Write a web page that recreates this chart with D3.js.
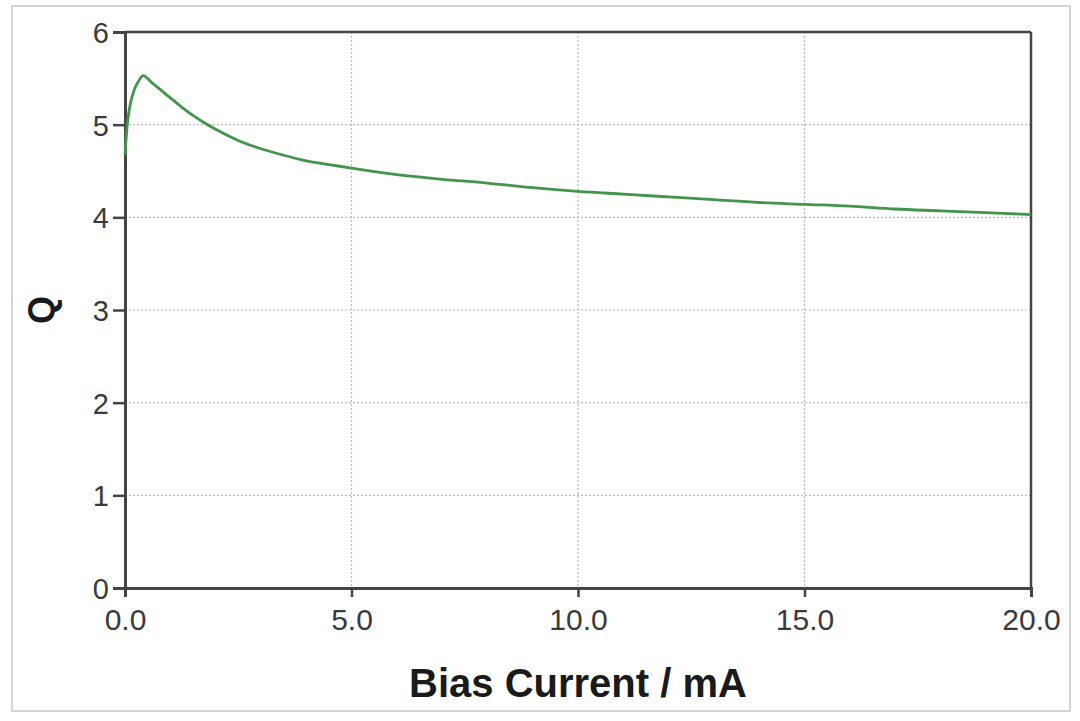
<!DOCTYPE html>
<html><head><meta charset="utf-8">
<script src="https://cdn.jsdelivr.net/npm/d3@7"></script>
<style>body{margin:0;background:#fff}svg{display:block}</style>
</head><body>
<script>
const biasCurrent = [0, 0.05, 0.1, 0.2, 0.3, 0.4, 0.6, 0.8, 1.0, 1.25, 1.5, 1.75, 2.0, 2.5, 3.0, 3.5, 4.0, 4.5, 5, 6, 7, 8, 9, 10, 11, 12, 13, 14, 15, 16, 17, 18, 19, 20];
const qValues = [4.67, 5.0, 5.18, 5.37, 5.47, 5.53, 5.45, 5.37, 5.29, 5.19, 5.10, 5.02, 4.95, 4.83, 4.74, 4.67, 4.61, 4.57, 4.53, 4.46, 4.41, 4.37, 4.32, 4.28, 4.25, 4.22, 4.19, 4.16, 4.14, 4.12, 4.09, 4.07, 4.05, 4.03];
const xTicks = [0, 5, 10, 15, 20];
const yTicks = [0, 1, 2, 3, 4, 5, 6];

const W = 1080, H = 721;
const m = {left: 125, right: 1031, top: 32, bottom: 588};
const svg = d3.select("body").append("svg").attr("width", W).attr("height", H);

svg.append("rect").attr("x", 12).attr("y", 6).attr("width", 1058).attr("height", 705)
  .attr("fill", "#fff").attr("stroke", "#d4d4d4").attr("stroke-width", 2);

const x = d3.scaleLinear().domain([0, 20]).range([m.left, m.right]);
const y = d3.scaleLinear().domain([0, 6]).range([m.bottom, m.top]);

// grid
const grid = svg.append("g").attr("stroke", "#b8b8b8").attr("stroke-width", 1.2).attr("stroke-dasharray", "2,2");
grid.selectAll(".gx").data(xTicks.filter(d => d > 0 && d < 20)).join("line")
  .attr("x1", d => x(d)).attr("x2", d => x(d)).attr("y1", m.top).attr("y2", m.bottom);
grid.selectAll(".gy").data(yTicks.filter(d => d > 0 && d < 6)).join("line")
  .attr("x1", m.left).attr("x2", m.right).attr("y1", d => y(d)).attr("y2", d => y(d));

// frame top/right
svg.append("line").attr("x1", m.left).attr("x2", m.right).attr("y1", m.top).attr("y2", m.top).attr("stroke", "#444").attr("stroke-width", 2.5);
svg.append("line").attr("x1", m.right).attr("x2", m.right).attr("y1", m.top).attr("y2", m.bottom).attr("stroke", "#444").attr("stroke-width", 2.5);

// axes
const xAxis = svg.append("g").attr("transform", `translate(0,${m.bottom})`)
  .call(d3.axisBottom(x).tickValues(xTicks).tickFormat(d3.format(".1f")).tickSize(9).tickPadding(12));
const yAxis = svg.append("g").attr("transform", `translate(${m.left},0)`)
  .call(d3.axisLeft(y).tickValues(yTicks).tickFormat(d3.format("d")).tickSize(12).tickPadding(4));
[xAxis, yAxis].forEach(a => {
  a.select(".domain").attr("stroke", "#444").attr("stroke-width", 3);
  a.selectAll(".tick line").attr("stroke", "#444").attr("stroke-width", 2.5);
  a.selectAll("text").attr("fill", "#3a3a3a").attr("font-family", "Liberation Sans, Arial, sans-serif");
});
xAxis.selectAll("text").attr("font-size", 30).attr("dy", "0.71em");
yAxis.selectAll("text").attr("font-size", 29).attr("dy", "0.36em");

// line
const line = d3.line().x((d, i) => x(biasCurrent[i])).y(d => y(d)).curve(d3.curveMonotoneX);
svg.append("path").datum(qValues).attr("d", line).attr("fill", "none")
  .attr("stroke", "#44954c").attr("stroke-width", 2.8);

// titles
svg.append("text").attr("x", (m.left + m.right) / 2).attr("y", 697).attr("text-anchor", "middle")
  .attr("font-family", "Liberation Sans, Arial, sans-serif").attr("font-weight", "bold").attr("font-size", 40)
  .attr("fill", "#1a1a1a").text("Bias Current / mA");
svg.append("text").attr("transform", "translate(54,310) rotate(-90)").attr("text-anchor", "middle")
  .attr("font-family", "Liberation Sans, Arial, sans-serif").attr("font-weight", "bold").attr("font-size", 36)
  .attr("fill", "#1a1a1a").text("Q");
</script>
</body></html>
